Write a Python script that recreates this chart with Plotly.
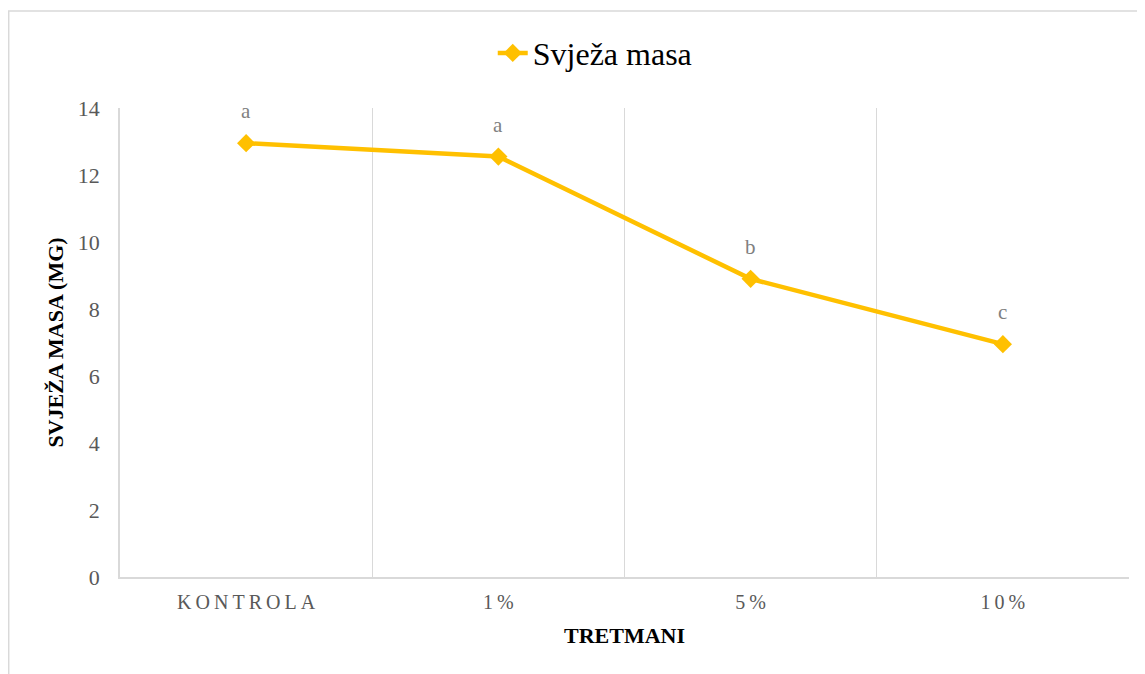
import plotly.graph_objects as go

categories = ["KONTROLA", "1%", "5%", "10%"]
svjeza_masa = [12.95, 12.55, 8.9, 6.95]
letters = ["a", "a", "b", "c"]
y_ticks = [0, 2, 4, 6, 8, 10, 12, 14]

SERIF = "Liberation Serif"
YELLOW = "#FFC000"
GRID = "#D9D9D9"

tick_text = ["\u2009".join(c) for c in categories]

fig = go.Figure()
fig.add_trace(go.Scatter(
    x=categories, y=svjeza_masa, mode="lines+markers", name="Svježa masa",
    line=dict(color=YELLOW, width=4.5),
    marker=dict(symbol="diamond", size=14, color=YELLOW),
))

for c, v, t in zip(categories, svjeza_masa, letters):
    fig.add_annotation(x=c, y=v, text=t, showarrow=False, yshift=32,
                       font=dict(family=SERIF, size=21, color="#808080"))

fig.add_shape(type="rect", xref="paper", yref="paper",
              x0=-0.1103, x1=1.3, y0=-0.5, y1=1.2068,
              line=dict(color=GRID, width=1.5), layer="below")

fig.update_layout(
    width=1137, height=666,
    margin=dict(l=112, r=16, t=100, b=97),
    paper_bgcolor="white", plot_bgcolor="white",
    font=dict(family=SERIF, color="#595959"),
    showlegend=True,
    legend=dict(orientation="h", x=0.471, y=1.117, xanchor="center", yanchor="middle",
                font=dict(family=SERIF, size=32, color="#000000"),
                bgcolor="rgba(0,0,0,0)"),
    xaxis=dict(
        type="category", range=[-0.5, 3.5],
        tickmode="array", tickvals=categories, ticktext=tick_text,
        tickson="boundaries", showgrid=True, gridcolor=GRID, gridwidth=1,
        showline=True, linecolor=GRID, linewidth=1.5,
        ticks="", zeroline=False,
        tickfont=dict(family=SERIF, size=20, color="#595959"),
        ticklabelstandoff=6,
        title=dict(text="<b>TRETMANI</b>", standoff=16,
                   font=dict(family=SERIF, size=22, color="#000000")),
    ),
    yaxis=dict(
        range=[0, 14], tickmode="array", tickvals=y_ticks,
        showgrid=False, zeroline=False,
        showline=True, linecolor=GRID, linewidth=1.5,
        ticks="", ticklabelstandoff=14,
        tickfont=dict(family=SERIF, size=22, color="#595959"),
        title=dict(text="<b>SVJEŽA MASA (MG)</b>", standoff=8,
                   font=dict(family=SERIF, size=22, color="#000000")),
    ),
)

fig.write_html("out.html")
